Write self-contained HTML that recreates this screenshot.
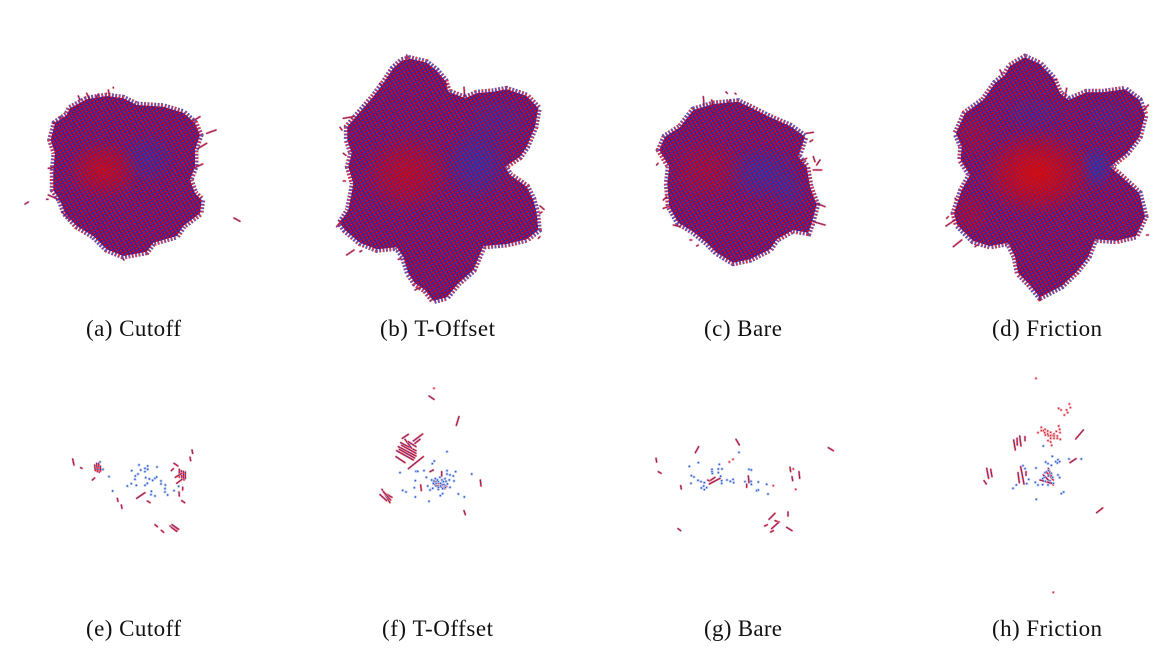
<!DOCTYPE html>
<html lang="en">
<head>
<meta charset="utf-8">
<title>Cluster morphology panels</title>
<style>
html,body{margin:0;padding:0;background:#fff;width:1172px;height:668px;overflow:hidden}
svg{display:block}
text{font-family:"Liberation Serif",serif;font-size:23px;fill:#111}
</style>
</head>
<body>
<svg id="figure" width="1172" height="668" viewBox="0 0 1172 668" xmlns="http://www.w3.org/2000/svg">
<defs>
<pattern id="lattice" width="3.6" height="3.2" patternUnits="userSpaceOnUse" patternTransform="rotate(-30)">
<rect width="3.6" height="3.2" fill="#2c2aa4"/>
<rect y="1.6" width="3.6" height="1.6" fill="#6c0c58"/>
<circle cx="1" cy="2.3" r="1.2" fill="#e8000c"/>
<circle cx="2.8" cy="0.6" r="0.9" fill="#1a34c4"/>
</pattern>
<radialGradient id="glow-red"><stop offset="0" stop-color="#d40a10" stop-opacity="1"/><stop offset="0.55" stop-color="#d40a10" stop-opacity="0.55"/><stop offset="1" stop-color="#d40a10" stop-opacity="0"/></radialGradient>
<radialGradient id="glow-blue"><stop offset="0" stop-color="#1c3cc0" stop-opacity="1"/><stop offset="0.55" stop-color="#1c3cc0" stop-opacity="0.55"/><stop offset="1" stop-color="#1c3cc0" stop-opacity="0"/></radialGradient>
<filter id="soft" x="-5%" y="-5%" width="110%" height="110%"><feGaussianBlur stdDeviation="0.35"/></filter>
</defs>
<g id="blobs" filter="url(#soft)"></g>
<g id="sparse" filter="url(#soft)"></g>
<g>
<text x="86" y="336" textLength="95">(a) Cutoff</text>
<text x="380" y="336" textLength="115">(b) T-Offset</text>
<text x="704" y="336" textLength="78">(c) Bare</text>
<text x="992" y="336" textLength="110">(d) Friction</text>
<text x="86" y="636" textLength="95">(e) Cutoff</text>
<text x="382" y="636" textLength="111">(f) T-Offset</text>
<text x="704" y="636" textLength="78">(g) Bare</text>
<text x="992" y="636" textLength="110">(h) Friction</text>
</g>
</svg>
<script>
// ---- Dense panels: outlines as [x, y]
const outlineA = [[150,85],[200,58],[260,48],[310,55],[350,75],[430,80],[490,98],[525,130],[540,165],[525,210],[525,260],[510,300],[525,340],[545,360],[540,400],[490,438],[470,468],[400,488],[380,515],[310,528],[260,508],[220,468],[170,438],[135,400],[120,360],[100,330],[100,270],[105,220],[92,180],[105,130],[140,105]];
const outlineB = [[215,32],[240,26],[290,38],[320,62],[345,92],[355,125],[405,145],[440,130],[490,125],[530,118],[590,138],[625,175],[615,230],[590,290],[570,320],[525,350],[540,375],[590,410],[610,450],[620,490],[625,540],[590,568],[530,582],[460,588],[445,625],[430,660],[385,700],[350,742],[310,752],[285,720],[255,700],[235,670],[220,620],[200,592],[140,598],[90,578],[45,540],[30,520],[55,480],[65,430],[70,400],[55,350],[65,310],[52,270],[52,230],[95,180],[130,140],[160,100],[190,55]];
const outlineC = [[130,60],[190,42],[265,35],[300,52],[360,82],[420,108],[465,140],[445,200],[470,230],[480,290],[500,345],[485,400],[475,428],[430,420],[380,448],[360,478],[300,508],[250,518],[200,488],[170,458],[130,425],[85,398],[58,350],[52,280],[58,230],[28,180],[45,140],[90,112]];
const outlineD = [[210,48],[255,22],[300,42],[340,85],[360,130],[385,150],[440,127],[490,127],[555,118],[598,150],[615,195],[598,260],[560,310],[510,350],[550,385],[598,430],[615,500],[588,558],[530,572],[465,568],[445,620],[410,665],[365,708],[300,742],[265,700],[235,670],[225,620],[205,578],[150,588],[100,573],[52,525],[42,490],[65,420],[90,375],[62,330],[65,290],[48,250],[75,190],[130,150],[165,100],[195,75]];

// ---- Dense panels: colour-concentration regions [cx, cy, rx, ry, strength]
const redRegionsA = [[250,270,110,90,0.7]];
const blueRegionsA = [[385,235,90,80,0.35]];
const redRegionsB = [[230,370,130,120,0.6]];
const blueRegionsB = [[440,340,100,120,0.5],[500,210,110,80,0.25]];
const redRegionsC = [[170,240,120,100,0.35]];
const blueRegionsC = [[340,250,120,90,0.45],[420,310,60,70,0.3]];
const redRegionsD = [[290,370,170,130,0.95],[90,490,60,70,0.3],[100,260,70,70,0.25]];
const blueRegionsD = [[470,350,50,70,0.6],[280,190,110,60,0.25],[500,200,100,70,0.2]];

// ---- Dense panels: stray rods [x1, y1, x2, y2]
const straysA = [[15,372,25,366],[642,414,660,424],[200,40,208,56],[265,30,268,46],[280,22,280,24],[175,48,180,60],[515,125,540,110],[560,160,588,150],[535,205,560,190],[520,265,548,252],[85,265,100,262],[85,345,130,365],[115,205,135,215],[125,395,150,420],[80,358,84,358],[310,538,312,540],[235,42,230,52],[120,110,125,115],[100,130,115,125]];
const straysB = [[50,615,72,600],[90,605,95,602],[402,112,404,140],[30,232,36,240],[40,310,48,316],[40,393,46,393],[630,468,642,478],[630,490,636,486],[20,530,40,505],[40,205,70,200],[150,100,160,110],[230,15,232,25],[345,95,350,105],[205,628,212,626],[255,720,270,712],[625,565,630,560]];
const straysC = [[160,20,162,45],[185,30,190,55],[228,6,232,10],[255,10,258,12],[235,40,240,30],[470,130,490,127],[480,155,488,150],[450,215,470,205],[490,200,495,215],[510,210,500,225],[490,240,515,240],[500,340,525,350],[490,395,525,405],[120,450,125,450],[140,468,145,465],[20,225,24,220],[40,330,50,320],[40,355,55,350],[70,405,90,410]];
const straysD = [[180,60,185,70],[380,115,375,140],[345,88,350,90],[20,505,25,500],[18,528,45,510],[40,590,65,570],[105,590,112,585],[45,445,50,450],[300,750,298,738],[625,165,610,180],[620,555,625,555]];

// ---- Sparse panels: isolated points [x, y] and rods [x1, y1, x2, y2]
const bluePointsE = [[237,75],[263,78],[255,85],[263,88],[215,92],[242,90],[255,95],[291,81],[234,102],[226,108],[225,118],[257,113],[268,117],[278,121],[285,115],[290,111],[303,123],[303,132],[262,130],[255,136],[229,136],[214,131],[202,138],[316,135],[315,146],[315,156],[323,165],[342,152],[356,139],[274,154],[273,164],[285,168],[158,153],[147,110],[129,88],[120,66]];
const rodsE = [[38,57,42,75],[62,83,66,85],[97,120,104,114],[230,175,255,158],[262,183,270,188],[172,175,174,184],[184,195,186,205],[285,254,292,260],[304,271,311,277],[330,258,352,272],[336,254,356,268],[334,262,350,274],[334,92,340,86],[342,70,354,78],[396,30,398,40],[390,52,392,62],[368,142,368,150],[357,156,358,168],[365,182,374,188],[104,75,106,92],[110,70,112,95],[116,70,118,97],[121,78,122,93],[358,88,358,112],[364,92,366,118],[370,94,372,120],[376,96,376,116],[346,112,366,100],[350,130,366,118]];
const redPointsE = [];

const bluePointsF = [[231,215],[193,243],[187,251],[90,278],[138,274],[143,274],[162,272],[231,272],[231,282],[257,275],[240,285],[250,288],[305,282],[136,302],[169,292],[252,303],[133,323],[173,318],[98,331],[108,336],[136,351],[177,364],[211,347],[218,341],[265,342],[283,351],[180,330],[188,325],[240,322],[185,300],[196,296],[210,292],[225,296],[238,300],[190,310],[205,305],[220,305],[232,312],[198,318],[212,318],[226,322],[205,328],[192,303],[202,300],[216,300],[228,304],[198,310],[212,310],[222,314],[205,322],[218,326]];
const rodsF = [[177,48,192,58],[267,110,259,136],[331,300,333,318],[282,392,286,404],[97,175,115,163],[130,183,158,162],[135,190,150,178],[92,188,138,212],[85,200,138,228],[80,212,130,240],[78,230,105,248],[95,196,138,220],[88,208,134,234],[105,178,125,205],[115,185,138,200],[115,266,160,230],[36,328,60,368],[30,344,50,362],[45,340,66,352],[40,335,62,360],[185,300,230,320],[190,312,225,326],[215,275,215,288],[152,315,154,332],[180,275,190,270]];
const redPointsF = [[192,25]];

const bluePointsG = [[118,109],[145,98],[267,67],[208,103],[186,118],[205,117],[216,117],[187,130],[205,128],[124,137],[132,141],[144,151],[153,155],[163,158],[123,160],[161,168],[154,174],[170,173],[163,179],[215,152],[215,160],[231,150],[241,154],[249,148],[251,158],[212,139],[297,118],[304,120],[285,155],[303,154],[304,163],[325,156],[350,163],[320,182],[325,180],[354,192],[186,125]];
const rodsG = [[146,50,136,68],[258,28,268,45],[18,85,20,96],[25,125,33,130],[92,167,94,177],[84,296,92,302],[178,162,210,145],[180,152,195,142],[173,150,178,153],[295,138,297,158],[290,163,290,172],[535,53,550,62],[420,112,422,125],[447,125,449,145],[426,140,428,152],[357,268,375,250],[344,288,352,284],[375,272,388,276],[365,296,385,278],[362,306,370,302],[414,246,414,258],[410,292,426,302]];
const redPointsG = [[238,96],[249,88],[430,117],[370,167],[437,178]];

const bluePointsH = [[190,228],[217,259],[197,276],[204,281],[214,286],[227,275],[234,269],[232,279],[239,275],[267,267],[304,267],[168,294],[129,287],[135,296],[146,328],[166,337],[109,345],[99,355],[140,341],[174,345],[188,344],[234,315],[239,323],[251,366],[244,371],[169,388],[195,308],[205,302],[214,310],[192,322],[205,318],[218,322],[196,334],[210,332],[220,340],[204,345],[188,326]];
const rodsH = [[101,210,106,240],[111,205,112,225],[119,198,123,228],[135,200,135,212],[20,295,26,325],[32,298,36,320],[12,332,19,342],[122,290,132,342],[114,308,118,338],[138,305,138,316],[310,180,287,207],[270,278,288,266],[350,428,368,414],[190,315,220,345],[198,305,220,330],[205,295,215,320],[180,330,215,340]];
const redPointsH = [[168,25],[220,667],[236,115],[243,120],[268,102],[271,113],[260,120],[263,128],[253,135],[174,188],[184,172],[195,178],[203,183],[212,187],[222,192],[236,168],[239,178],[240,188],[241,208],[229,184],[232,198],[222,205],[212,205],[204,212],[212,216],[215,226],[196,195],[205,197],[190,182],[184,182],[232,205],[215,196],[203,192],[212,197],[222,198],[194,188]];

const denseRow = [
  {id:'a',left:20,top:80,outline:outlineA,red:redRegionsA,blue:blueRegionsA,strays:straysA},
  {id:'b',left:330,top:50,outline:outlineB,red:redRegionsB,blue:blueRegionsB,strays:straysB},
  {id:'c',left:650,top:90,outline:outlineC,red:redRegionsC,blue:blueRegionsC,strays:straysC},
  {id:'d',left:940,top:50,outline:outlineD,red:redRegionsD,blue:blueRegionsD,strays:straysD}
];
const sparseRow = [
  {id:'e',left:60,top:440,pts:bluePointsE,red:redPointsE,rods:rodsE},
  {id:'f',left:370,top:380,pts:bluePointsF,red:redPointsF,rods:rodsF},
  {id:'g',left:650,top:430,pts:bluePointsG,red:redPointsG,rods:rodsG},
  {id:'h',left:980,top:370,pts:bluePointsH,red:redPointsH,rods:rodsH}
];

const NS = 'http://www.w3.org/2000/svg';
const UNIT = 1 / 3;
function axisX(panel, v) { return panel.left + v * UNIT; }
function axisY(panel, v) { return panel.top + v * UNIT; }
function make(tag, parent, attrs) {
  const el = document.createElementNS(NS, tag);
  for (const k in attrs) el.setAttribute(k, attrs[k]);
  parent.appendChild(el);
  return el;
}
function drawRod(panel, parent, r) {
  const g = make('g', parent, {});
  
  
  const c = {x1:axisX(panel,r[0]),y1:axisY(panel,r[1]),x2:axisX(panel,r[2]),y2:axisY(panel,r[3]),'stroke-linecap':'round',fill:'none'};
  make('line', g, Object.assign({}, c, {stroke:'#f4b4bc','stroke-width':2.4}));
  make('line', g, Object.assign({}, c, {stroke:'#d8182c','stroke-width':1.3}));
  make('line', g, Object.assign({}, c, {stroke:'#2440c0','stroke-width':1.1,'stroke-dasharray':'1 1.8','stroke-linecap':'butt'}));
}
function drawPoint(panel, parent, p, fill, halo) {
  const c = make('circle', parent, {cx:axisX(panel,p[0]),cy:axisY(panel,p[1]),r:1.1,fill:fill,stroke:halo,'stroke-width':0.8});
  
  
}
const blobLayer = document.getElementById('blobs');
denseRow.forEach(function (panel) {
  const g = make('g', blobLayer, {});
  
  
  const pts = panel.outline.map(function (p) { return axisX(panel,p[0]).toFixed(1) + ',' + axisY(panel,p[1]).toFixed(1); }).join(' ');
  const clip = make('clipPath', g, {id:'clip-' + panel.id});
  make('polygon', clip, {points:pts});
  panel.strays.forEach(function (r) { drawRod(panel, g, r); });
  const fringe = make('polygon', g, {points:pts,fill:'none',stroke:'url(#lattice)','stroke-width':7,'stroke-dasharray':'2 1.4','stroke-opacity':0.8});
  
  
  const body = make('polygon', g, {points:pts,fill:'url(#lattice)'});
  
  
  const tint = make('g', g, {'clip-path':'url(#clip-' + panel.id + ')'});
  
  
  panel.blue.forEach(function (e) {
    make('ellipse', tint, {cx:axisX(panel,e[0]),cy:axisY(panel,e[1]),rx:e[2]*UNIT,ry:e[3]*UNIT,fill:'url(#glow-blue)',opacity:e[4]});
  });
  panel.red.forEach(function (e) {
    make('ellipse', tint, {cx:axisX(panel,e[0]),cy:axisY(panel,e[1]),rx:e[2]*UNIT,ry:e[3]*UNIT,fill:'url(#glow-red)',opacity:e[4]});
  });
});
const sparseLayer = document.getElementById('sparse');
sparseRow.forEach(function (panel) {
  const g = make('g', sparseLayer, {});
  
  
  panel.rods.forEach(function (r) { drawRod(panel, g, r); });
  panel.pts.forEach(function (p) { drawPoint(panel, g, p, '#2450c8', '#b4c6f0'); });
  panel.red.forEach(function (p) { drawPoint(panel, g, p, '#d41c2c', '#f0b0b8'); });
});
</script>
</body>
</html>
